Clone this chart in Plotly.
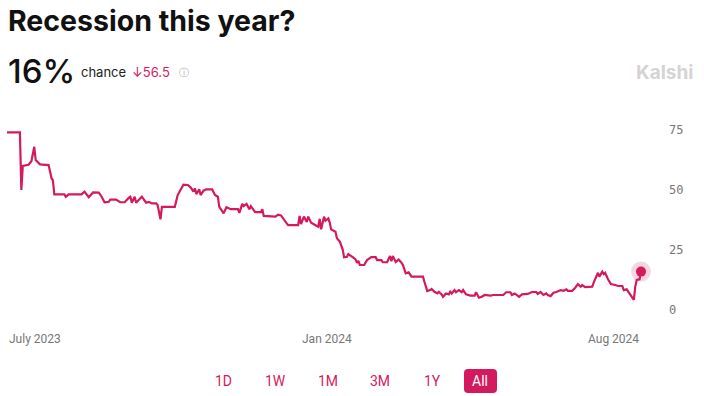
import plotly.graph_objects as go

# ---------------- data ----------------
dates = [
    "2023-05-23", "2023-06-01", "2023-06-02", "2023-06-03", "2023-06-07", "2023-06-09",
    "2023-06-11", "2023-06-12", "2023-06-15", "2023-06-21", "2023-06-23", "2023-06-24",
    "2023-06-25", "2023-07-02", "2023-07-03", "2023-07-05", "2023-07-14", "2023-07-16",
    "2023-07-19", "2023-07-22", "2023-07-26", "2023-07-28", "2023-07-30", "2023-08-02",
    "2023-08-03", "2023-08-07", "2023-08-10", "2023-08-13", "2023-08-16", "2023-08-17",
    "2023-08-18", "2023-08-20", "2023-08-21", "2023-08-24", "2023-08-25", "2023-08-28",
    "2023-08-30", "2023-09-01", "2023-09-04", "2023-09-05", "2023-09-07", "2023-09-08",
    "2023-09-17", "2023-09-19", "2023-09-21", "2023-09-23", "2023-09-26", "2023-09-28",
    "2023-09-30", "2023-10-01", "2023-10-02", "2023-10-04", "2023-10-05", "2023-10-07",
    "2023-10-09", "2023-10-13", "2023-10-15", "2023-10-17", "2023-10-18", "2023-10-21",
    "2023-10-23", "2023-10-26", "2023-10-31", "2023-11-01", "2023-11-03", "2023-11-04",
    "2023-11-06", "2023-11-08", "2023-11-09", "2023-11-11", "2023-11-12", "2023-11-16",
    "2023-11-17", "2023-11-18", "2023-11-26", "2023-11-28", "2023-11-30", "2023-12-04",
    "2023-12-05", "2023-12-12", "2023-12-13", "2023-12-14", "2023-12-16", "2023-12-18",
    "2023-12-19", "2023-12-21", "2023-12-24", "2023-12-26", "2023-12-27", "2023-12-28",
    "2023-12-30", "2023-12-31", "2024-01-02", "2024-01-03", "2024-01-04", "2024-01-07",
    "2024-01-08", "2024-01-10", "2024-01-12", "2024-01-13", "2024-01-15", "2024-01-16",
    "2024-01-19", "2024-01-21", "2024-01-22", "2024-01-23", "2024-01-24", "2024-01-27",
    "2024-01-29", "2024-02-01", "2024-02-04", "2024-02-05", "2024-02-08", "2024-02-09",
    "2024-02-12", "2024-02-14", "2024-02-15", "2024-02-16", "2024-02-18", "2024-02-20",
    "2024-02-22", "2024-02-23", "2024-02-25", "2024-02-27", "2024-02-29", "2024-03-08",
    "2024-03-09", "2024-03-11", "2024-03-13", "2024-03-14", "2024-03-16", "2024-03-18",
    "2024-03-19", "2024-03-21", "2024-03-22", "2024-03-24", "2024-03-26", "2024-03-27",
    "2024-03-28", "2024-03-30", "2024-03-31", "2024-04-02", "2024-04-04", "2024-04-05",
    "2024-04-07", "2024-04-10", "2024-04-13", "2024-04-14", "2024-04-16", "2024-04-18",
    "2024-04-20", "2024-04-24", "2024-04-26", "2024-05-03", "2024-05-05", "2024-05-08",
    "2024-05-09", "2024-05-11", "2024-05-14", "2024-05-16", "2024-05-20", "2024-05-23",
    "2024-05-26", "2024-05-27", "2024-05-29", "2024-05-31", "2024-06-02", "2024-06-03",
    "2024-06-05", "2024-06-07", "2024-06-09", "2024-06-12", "2024-06-14", "2024-06-16",
    "2024-06-17", "2024-06-20", "2024-06-22", "2024-06-24", "2024-06-26", "2024-06-27",
    "2024-06-29", "2024-07-04", "2024-07-05", "2024-07-07", "2024-07-08", "2024-07-09",
    "2024-07-11", "2024-07-12", "2024-07-13", "2024-07-15", "2024-07-17", "2024-07-20",
    "2024-07-22", "2024-07-25", "2024-07-26", "2024-07-28", "2024-07-30", "2024-08-01",
    "2024-08-02", "2024-08-03", "2024-08-04", "2024-08-06", "2024-08-07",
]
chance = [
    74, 74, 50, 60, 60.5, 62,
    68, 62.5, 60.7, 60.4, 55, 54,
    48.2, 48.2, 47.2, 48.2, 48.2, 49.3,
    47, 49, 48.9, 47.2, 44.9, 45.1,
    46, 46, 44.9, 44.9, 46.8, 47.2,
    44.7, 47.2, 44.7, 46.5, 47.2, 44.7,
    45, 44.4, 44.4, 43.75, 37.8, 43,
    43, 47.9, 50, 52.2, 52.1, 51.1,
    49.3, 50.7, 48.3, 50.3, 47.9, 49.7,
    50.3, 50.3, 47.9, 47.2, 43, 40.3,
    42.8, 42, 42, 40.5, 44.2, 43.3,
    44.2, 42, 43.3, 41.7, 40.8, 40.8,
    42, 39.2, 38.9, 39.7, 39.4, 36.1,
    35.4, 35.4, 39.2, 35.8, 38.9, 36.7,
    38.9, 36.4, 35.4, 34.7, 38, 33.6,
    38.9, 37.2, 38.2, 36.4, 33.6, 32.6,
    29.9, 28.5, 25.3, 22, 22.2, 23.3,
    22, 21.1, 19.7, 20.5, 18.75, 18.75,
    20.8, 22, 22, 20.8, 20.8, 19.9,
    19.9, 22.5, 20.3, 22.5, 20, 21,
    19.7, 18.75, 15.3, 15.7, 13.9, 13.9,
    11.8, 7.9, 8.3, 8.75, 7.6, 6.9,
    7.6, 6.5, 5.5, 6.9, 6.5, 7.6,
    6.9, 8.3, 7.4, 8.3, 7.4, 8.3,
    6.5, 6, 6, 7.4, 5.1, 5.5,
    6.25, 6, 6.25, 6.25, 7.4, 7.4,
    6.25, 6.9, 5.5, 6.5, 6.7, 7.5,
    7.5, 6.7, 7.5, 6.25, 6.9, 6.25,
    5.8, 7.2, 7.5, 8.3, 8, 8.6,
    8, 8, 9.2, 10.8, 9.7, 10.4,
    9.5, 9.7, 11.4, 14.6, 15.5, 13.9,
    16, 15, 15.5, 12.8, 10.8, 10.4,
    10, 10, 8.3, 8.6, 6.9, 4.9,
    4.2, 9.7, 12.5, 12.8, 16,
]

y_ticks = [0, 25, 50, 75]
x_label_dates = ["2023-05-23", "2024-01-01", "2024-08-07"]
x_label_texts = ["July 2023", "Jan 2024", "Aug 2024"]
range_buttons = ["1D", "1W", "1M", "3M", "1Y", "All"]

title_text = "Recession this year?"
current_text = "16%"
change_text = "↓56.5"
brand_text = "Kalshi"

# ---------------- styling / layout ----------------
PINK = "#D5195E"
W, H = 704, 396
L, R, T, B = 7, 63, 120, 76
PW, PH = W - L - R, H - T - B


def px(x):
    return (x - L) / PW


def py(y):
    return (H - B - y) / PH


fig = go.Figure()
fig.add_trace(go.Scatter(
    x=dates, y=chance, mode="lines",
    line=dict(color=PINK, width=2.2), hoverinfo="skip", showlegend=False,
    cliponaxis=False,
))
fig.add_trace(go.Scatter(
    x=[dates[-1]], y=[chance[-1]], mode="markers",
    marker=dict(color="rgba(213,25,94,0.18)", size=20, line=dict(width=0)),
    hoverinfo="skip", showlegend=False, cliponaxis=False,
))
fig.add_trace(go.Scatter(
    x=[dates[-1]], y=[chance[-1]], mode="markers",
    marker=dict(color=PINK, size=10, line=dict(width=0)),
    hoverinfo="skip", showlegend=False, cliponaxis=False,
))

annotations = []
# title
annotations.append(dict(
    text="<b>" + title_text + "</b>", xref="paper", yref="paper",
    x=px(6), y=py(21), xanchor="left", yanchor="middle", showarrow=False,
    font=dict(family="Inter", size=28.5, color="#111111"),
))
# 16%
annotations.append(dict(
    text=current_text, xref="paper", yref="paper",
    x=px(6), y=py(71), xanchor="left", yanchor="middle", showarrow=False,
    font=dict(family="Inter", size=33, color="#111111", weight=500),
))
annotations.append(dict(
    text="chance", xref="paper", yref="paper",
    x=px(79), y=py(72), xanchor="left", yanchor="middle", showarrow=False,
    font=dict(family="Inter", size=13, color="#222222"),
))
annotations.append(dict(
    text=change_text, xref="paper", yref="paper",
    x=px(130), y=py(72), xanchor="left", yanchor="middle", showarrow=False,
    font=dict(family="Inter", size=13, color=PINK),
))
annotations.append(dict(
    text="ⓘ", xref="paper", yref="paper",
    x=px(184), y=py(72), xanchor="center", yanchor="middle", showarrow=False,
    font=dict(family="DejaVu Sans", size=10, color="#AAAAAA"),
))
annotations.append(dict(
    text="<b>" + brand_text + "</b>", xref="paper", yref="paper",
    x=px(695), y=py(72), xanchor="right", yanchor="middle", showarrow=False,
    font=dict(family="Inter", size=19, color="#D4D4D4"),
))
# x labels
anchors = ["left", "center", "right"]
for d, t, a in zip(x_label_dates, x_label_texts, anchors):
    annotations.append(dict(
        text=t, xref="x", yref="paper", x=d, y=py(339),
        xanchor=a, yanchor="middle", showarrow=False,
        font=dict(family="Roboto", size=12, color="#777777"),
    ))
# range buttons
btn_x = [223, 275, 328, 380, 432, 480]
for lbl, bx in zip(range_buttons, btn_x):
    annotations.append(dict(
        text=lbl, xref="paper", yref="paper", x=px(bx), y=py(381),
        xanchor="center", yanchor="middle", showarrow=False,
        font=dict(family="Roboto", size=14,
                  color="#FFFFFF" if lbl == "All" else PINK),
    ))

# pill behind "All"
x0, x1, y0, y1, r = 464, 497, 369, 393, 4
path = (
    f"M {px(x0 + r)},{py(y0)} L {px(x1 - r)},{py(y0)} "
    f"Q {px(x1)},{py(y0)} {px(x1)},{py(y0 + r)} "
    f"L {px(x1)},{py(y1 - r)} Q {px(x1)},{py(y1)} {px(x1 - r)},{py(y1)} "
    f"L {px(x0 + r)},{py(y1)} Q {px(x0)},{py(y1)} {px(x0)},{py(y1 - r)} "
    f"L {px(x0)},{py(y0 + r)} Q {px(x0)},{py(y0)} {px(x0 + r)},{py(y0)} Z"
)
shapes = [dict(type="path", path=path, xref="paper", yref="paper",
               fillcolor=PINK, line=dict(width=0), layer="below")]

fig.update_layout(
    width=W, height=H,
    margin=dict(l=L, r=R, t=T, b=B, pad=0),
    paper_bgcolor="white", plot_bgcolor="white",
    annotations=annotations, shapes=shapes,
    xaxis=dict(type="date", range=[dates[0], dates[-1]], showgrid=False,
               zeroline=False, showticklabels=False, showline=False,
               fixedrange=True),
    yaxis=dict(range=[-4.1667, 79.1667], side="right", tickvals=y_ticks,
               showgrid=False, zeroline=False, showline=False,
               ticks="", ticklabelstandoff=27,
               tickfont=dict(family="DejaVu Sans Mono", size=12, color="#777777"),
               fixedrange=True),
    showlegend=False,
)

fig.write_html("out.html", config={"displayModeBar": False})
